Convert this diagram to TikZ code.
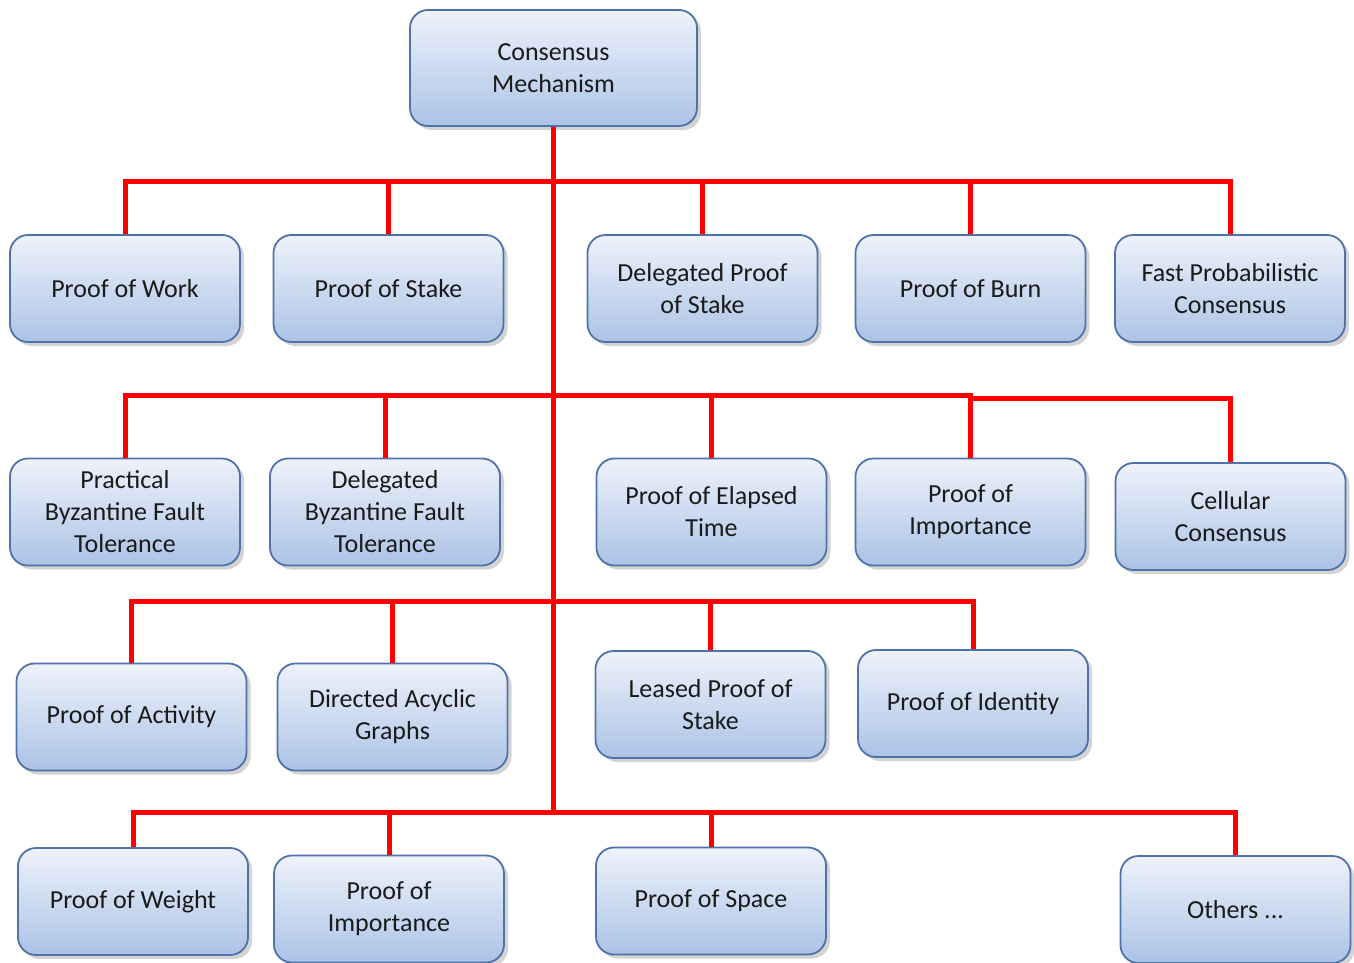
\documentclass[tikz,border=0pt]{standalone}
\usepackage{fontspec}
\setmainfont{Carlito}
\usetikzlibrary{shadows,calc}
\definecolor{boxedge}{HTML}{4F73A8}
\definecolor{boxtop}{HTML}{EEF2FA}
\definecolor{boxbot}{HTML}{ABC3E6}
\definecolor{txt}{HTML}{1A1A1A}
\tikzset{
  cbox/.style={draw=boxedge, line width=1.8pt, rounded corners=18pt,
    top color=boxtop, bottom color=boxbot,
    minimum width=230pt, minimum height=107pt, align=center,
    text=txt, font=\fontsize{26}{32}\selectfont, inner sep=2pt,
    drop shadow={shadow xshift=4pt, shadow yshift=-4pt, opacity=0.35, fill=gray}},
  link/.style={draw=red, line width=5pt}
}
\begin{document}
\begin{tikzpicture}[x=1pt,y=-1pt]
\useasboundingbox (0,0) rectangle (1354,963);
% root
\node[cbox, minimum width=287pt, minimum height=116pt] (root) at (553.5,68) {Consensus\\Mechanism};
% row 1
\node[cbox] (pow) at (125,288.5) {Proof of Work};
\node[cbox] (pos) at (388.5,288.5) {Proof of Stake};
\node[cbox] (dpos) at (702.5,288.5) {Delegated Proof\\of Stake};
\node[cbox] (pob) at (970.5,288.5) {Proof of Burn};
\node[cbox] (fpc) at (1230,288.5) {Fast Probabilistic\\Consensus};
% row 2
\node[cbox] (pbft) at (125,512) {Practical\\Byzantine Fault\\Tolerance};
\node[cbox] (dbft) at (385,512) {Delegated\\Byzantine Fault\\Tolerance};
\node[cbox] (poet) at (711.5,512) {Proof of Elapsed\\Time};
\node[cbox] (poi) at (970.5,512) {Proof of\\Importance};
\node[cbox] (cell) at (1230.5,516.5) {Cellular\\Consensus};
% row 3
\node[cbox] (poa) at (131.5,717) {Proof of Activity};
\node[cbox] (dag) at (392.5,717) {Directed Acyclic\\Graphs};
\node[cbox] (lpos) at (710.5,704.5) {Leased Proof of\\Stake};
\node[cbox] (poid) at (973,703.5) {Proof of Identity};
% row 4
\node[cbox] (pow2) at (133,901.5) {Proof of Weight};
\node[cbox] (poi2) at (389,909) {Proof of\\Importance};
\node[cbox] (pospace) at (711,901) {Proof of Space};
\node[cbox] (oth) at (1235.5,909.5) {Others ...};
% junctions on trunk
\coordinate (j1) at (553.5,181);
\coordinate (j2) at (553.5,395);
\coordinate (j2b) at (970.5,398);
\coordinate (j3) at (553.5,601);
\coordinate (j4) at (553.5,812);
\draw[link] (root.south) -- (j4);
\foreach \n in {pow,pos,dpos,pob,fpc} \draw[link] (j1) -| (\n.north);
\foreach \n in {pbft,dbft,poet,poi} \draw[link] (j2) -| (\n.north);
\draw[link] (j2b) -| (cell.north);
\foreach \n in {poa,dag,lpos,poid} \draw[link] (j3) -| (\n.north);
\foreach \n in {pow2,poi2,pospace,oth} \draw[link] (j4) -| (\n.north);
\end{tikzpicture}
\end{document}
